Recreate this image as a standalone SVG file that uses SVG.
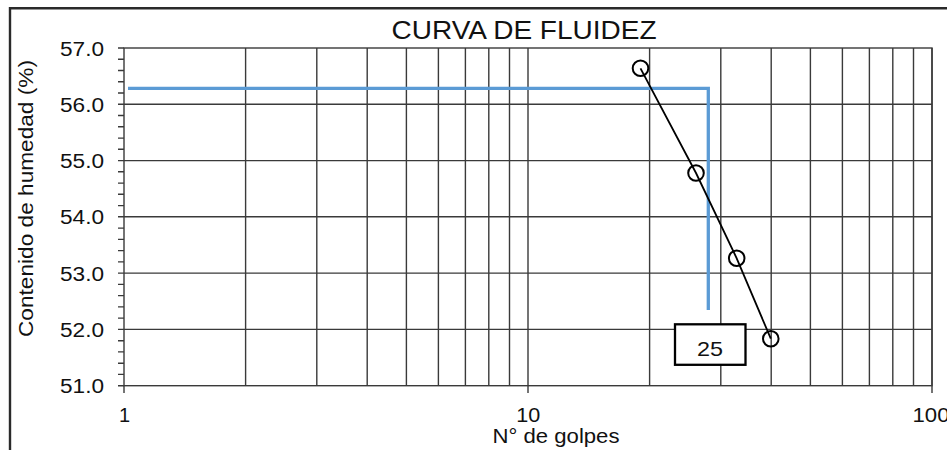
<svg xmlns="http://www.w3.org/2000/svg" width="947" height="450" viewBox="0 0 947 450">
<style>
text{font-family:"Liberation Sans",Arial,sans-serif;fill:#111}
.grid{stroke:#3a3a3a;stroke-width:1.4;fill:none}
.frame{stroke:#2a2a2a;stroke-width:2.4;fill:none}
.blue{stroke:#5B9BD5;stroke-width:3.3;fill:none}
.pt{stroke:#000;stroke-width:2;fill:none}
.tl{font-size:20px;text-anchor:end}
.xl{font-size:20px;text-anchor:middle}
</style>
<rect width="947" height="450" fill="#fff"/>
<path class="frame" d="M10,450 V8.3 H947"/>
<g id="title"><text x="524" y="39.3" font-size="25" text-anchor="middle" textLength="265" lengthAdjust="spacingAndGlyphs">CURVA DE FLUIDEZ</text></g>
<g id="grid">
<rect class="grid" x="124" y="48" width="808" height="337.7"/>
<path class="grid" d="M124,104.3H932M124,160.6H932M124,216.8H932M124,273.1H932M124,329.4H932"/>
<path class="grid" d="M245.6,48V385.7M316.8,48V385.7M367.2,48V385.7M406.4,48V385.7M438.4,48V385.7M465.4,48V385.7M488.8,48V385.7M509.5,48V385.7M528,48V393M649.6,48V385.7M720.8,48V385.7M771.2,48V385.7M810.4,48V385.7M842.4,48V385.7M869.4,48V385.7M892.8,48V385.7M913.5,48V385.7M932,48V393M124,385.7V393"/>
<path class="grid" d="M118,48H124M118,59.3H124M118,70.5H124M118,81.8H124M118,93H124M118,104.3H124M118,115.5H124M118,126.8H124M118,138.1H124M118,149.3H124M118,160.6H124M118,171.8H124M118,183.1H124M118,194.3H124M118,205.6H124M118,216.8H124M118,228.1H124M118,239.4H124M118,250.6H124M118,261.9H124M118,273.1H124M118,284.4H124M118,295.6H124M118,306.9H124M118,318.1H124M118,329.4H124M118,340.7H124M118,351.9H124M118,363.2H124M118,374.4H124M118,385.7H124"/>
</g>
<g id="yticks">
<text class="tl" x="104" y="56" textLength="44" lengthAdjust="spacingAndGlyphs">57.0</text>
<text class="tl" x="104" y="112" textLength="44" lengthAdjust="spacingAndGlyphs">56.0</text>
<text class="tl" x="104" y="168" textLength="44" lengthAdjust="spacingAndGlyphs">55.0</text>
<text class="tl" x="104" y="224" textLength="44" lengthAdjust="spacingAndGlyphs">54.0</text>
<text class="tl" x="104" y="280.5" textLength="44" lengthAdjust="spacingAndGlyphs">53.0</text>
<text class="tl" x="104" y="337" textLength="44" lengthAdjust="spacingAndGlyphs">52.0</text>
<text class="tl" x="104" y="393" textLength="44" lengthAdjust="spacingAndGlyphs">51.0</text>
</g>
<g id="xticks">
<text class="xl" x="124.5" y="421.7">1</text>
<text class="xl" x="528.3" y="421.7" textLength="24" lengthAdjust="spacingAndGlyphs">10</text>
<text class="xl" x="931" y="421.7" textLength="37" lengthAdjust="spacingAndGlyphs">100</text>
</g>
<g id="xtitle"><text x="556" y="443.3" font-size="20" text-anchor="middle" textLength="127" lengthAdjust="spacingAndGlyphs">N° de golpes</text></g>
<g id="ytitle"><text transform="translate(33,198.5) rotate(-90)" font-size="21" text-anchor="middle" textLength="277" lengthAdjust="spacingAndGlyphs">Contenido de humedad  (%)</text></g>
<g id="connectors">
<path class="blue" d="M128,88.3H708.3V310"/>
<polyline fill="none" stroke="#000" stroke-width="1.8" points="640.5,68.3 696,173 736.7,258.3 770.8,338.7"/>
</g>
<g id="points">
<circle class="pt" cx="640.5" cy="68.3" r="7.8"/>
<circle class="pt" cx="696" cy="173" r="7.8"/>
<circle class="pt" cx="736.7" cy="258.3" r="7.8"/>
<circle class="pt" cx="770.8" cy="338.7" r="7.8"/>
</g>
<g id="label25">
<rect x="675" y="324.3" width="70.5" height="40.5" fill="#fff" stroke="#000" stroke-width="2.3"/>
<text x="710" y="356" font-size="21" text-anchor="middle" textLength="26" lengthAdjust="spacingAndGlyphs">25</text>
</g>
</svg>
